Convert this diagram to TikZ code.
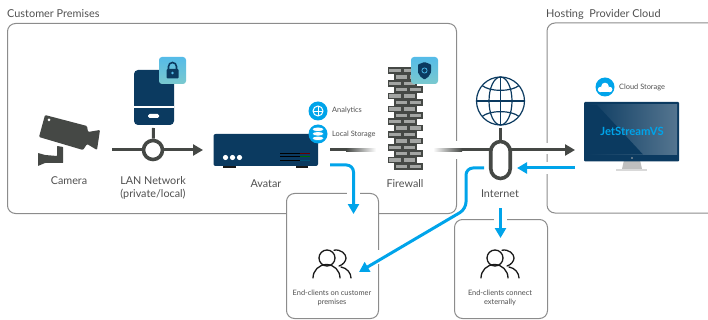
\documentclass[tikz,border=0pt]{standalone}
\usepackage{fontspec}
\setmainfont{Lato}
\usetikzlibrary{arrows.meta,positioning,calc}
\definecolor{navy}{HTML}{0B3A60}
\definecolor{dark}{HTML}{454845}
\definecolor{sky}{HTML}{00A4EA}
\definecolor{edge}{HTML}{8C8C8C}
\definecolor{txt}{HTML}{505050}
\definecolor{brick}{HTML}{A3A5A3}
\definecolor{tileA}{HTML}{55BBE8}
\definecolor{tileB}{HTML}{7AC9CE}
\tikzset{
  x=1pt,y=-1pt,
  lbl/.style={text=txt,font=\fontsize{10.8}{13}\selectfont,align=center,inner sep=0pt},
  big/.style={text=txt,font=\fontsize{10.9}{13}\selectfont,inner sep=0pt,anchor=west},
  small/.style={text=txt,font=\fontsize{7.4}{9}\selectfont,align=center,inner sep=0pt},
  region/.style={draw=edge,line width=1pt,rounded corners=8pt,fill=white},
  darkline/.style={draw=dark,line width=3pt},
  bluearrow/.style={draw=sky,line width=3pt,rounded corners=7pt,-{Triangle[length=10pt,width=11pt]}},
  hub/.style={draw=dark,line width=3.6pt,fill=white},
  tile/.style={minimum size=27pt,inner sep=0pt,rounded corners=3pt,top color=tileA,bottom color=tileB},
  iconball/.style={circle,fill=sky,minimum size=19pt,inner sep=0pt},
  person/.style={draw=black!90,line width=1.3pt,line cap=round},
}
\newcommand{\peopleicon}[2]{%
  \begin{scope}[shift={(#1,#2)}]
    \draw[person] (0,0) circle (8);
    \draw[person] (-14,20) arc[start angle=180,end angle=360,x radius=13.5,y radius=13.5];
    \draw[person] (7,-7.8) .. controls (14,-9) and (19,-4) .. (19,0) .. controls (19,3) and (16,7) .. (12,8);
    \draw[person] (14,9) .. controls (20,10) and (24,15) .. (24,20);
  \end{scope}}
\begin{document}
\begin{tikzpicture}
\useasboundingbox (0,0) rectangle (708,320);

% regions
\node[region,minimum width=449pt,minimum height=190pt,anchor=north west,inner sep=0pt] (premises) at (7,23) {};
\coordinate (hostTR) at (708,23);
\coordinate (hostTL) at (547,23);
\coordinate (hostBL) at (547,213);
\coordinate (hostBR) at (708,213);
\draw[draw=edge,line width=1pt,rounded corners=8pt] (hostTR) -- (hostTL) -- (hostBL) -- (hostBR);
\node[big] (premisesTitle) at (7,14) {Customer Premises};
\node[big] (hostTitle) at (546,14) {Hosting\ \ Provider Cloud};

% client boxes
\node[region,minimum width=92pt,minimum height=125pt,anchor=north west,inner sep=0pt] (clientsA) at (286,193) {};
\node[region,minimum width=93pt,minimum height=99pt,anchor=north west,inner sep=0pt] (clientsB) at (454,219) {};

% camera
\fill[dark,rounded corners=1pt] (45,115) -- (87,126) -- (88,132) -- (100,130) -- (97,150) -- (87,144) -- (83,150) -- (39,137) -- cycle;
\fill[white] (49,120) circle (1.5);
\fill[dark,rounded corners=0.5pt] (57,146) -- (63,147) -- (63,163) -- (45,163) -- (38,166) -- (38,153) -- (45,155) -- (57,156) -- cycle;
\node[lbl] (camera) at (69,181) {Camera};

% LAN
\coordinate (lanIn) at (112,150);
\coordinate (lanOut) at (203,150);
\node[hub,circle,minimum size=19pt,inner sep=0pt] (lan) at (153,150) {};
\draw[darkline] (lanIn) -- (lan);
\draw[darkline,-{Triangle[length=10pt,width=11pt]}] (lan) -- (lanOut);
\fill[navy,rounded corners=4pt] (134,70) rectangle (174,125);
\coordinate (lanDevice) at (153.5,128);
\fill[white] (134,106.5) rectangle (174,108);
\fill[white,rounded corners=1.5pt] (148,114) rectangle (159,118);
\draw[darkline] (lanDevice) -- (lan);
\node[tile] (lockTile) at (172.5,70.5) {};
\draw[navy,line width=1.6pt] (168.5,69) -- (168.5,66.5) arc[start angle=180,end angle=360,radius=4] -- (176.5,69);
\fill[navy,rounded corners=1pt] (166.5,69) rectangle (178.5,78.5);
\fill[tileA] (172.5,73) circle (1.4);
\node[lbl] (lanLabel) at (153,187.5) {LAN Network\\(private/local)};

% avatar
\fill[black!90] (223,165) rectangle (236,168.5);
\fill[black!90] (296,165) rectangle (308,168.5);
\fill[navy,rounded corners=2pt] (213.5,134) rectangle (318,166);
\foreach \dx in {225.5,232.5,239.5} \fill[white] (\dx,157.5) circle (2.6);
\foreach \dy/\c in {153.5/red!40!black,157/green!40!black,160.5/sky!50!black}{
  \draw[black,line width=1pt] (280,\dy) -- (300,\dy);
  \draw[\c,line width=1pt] (300,\dy) -- (310,\dy);}
\node[lbl] (avatar) at (266,184) {Avatar};
\node[iconball] (analytics) at (318,111) {};
\draw[white,line width=1pt] (318,111) circle (5);
\draw[white,line width=0.8pt] (318,106) -- (318,116) (313,111) -- (323,111);
\node[iconball] (storage) at (318,134) {};
\foreach \dy in {138.5,134,129.5} {
  \fill[white] (318,\dy) ellipse (5.5 and 2);
  \draw[sky,line width=0.5pt] (312.5,\dy) arc[start angle=180,end angle=0,x radius=5.5,y radius=2];}
\node[small,anchor=west] (analyticsL) at (332,110.5) {Analytics};
\node[small,anchor=west] (storageL) at (332,134) {Local Storage};

% firewall
\foreach \r in {0,...,15}{
  \pgfmathsetmacro{\yy}{68+6.4*\r}
  \pgfmathsetmacro{\xx}{isodd(\r) ? 395 : 388.5}
  \foreach \k in {0,1}{
    \draw[draw=dark,fill=brick,line width=1.7pt] ({\xx+\k*14.2},\yy) rectangle ++(13,5);
  }
}
\node[lbl] (firewall) at (405,184) {Firewall};
\node[tile] (shieldTile) at (424.5,70.5) {};
\fill[navy,rounded corners=0.8pt] (424.5,62) -- (431,64.5) -- (431,72) .. controls (430,76) and (427,78) .. (424.5,79.5) .. controls (422,78) and (419,76) .. (418,72) -- (418,64.5) -- cycle;
\draw[sky!70!white,line width=0.7pt] (424.5,70.5) circle (2.6);

% internet
\coordinate (midStart) at (330,150);
\coordinate (midSolid) at (346,150);
\coordinate (midEnd) at (376,150);
\coordinate (wanStart) at (433,150);
\coordinate (wanFade) at (462,150);
\coordinate (wanEnd) at (575,150);
\fill[white] (450,141) rectangle (462,159);
\fill[white] (541,143) rectangle (553,154);
\fill[white] (541,162) rectangle (553,174);
\draw[darkline] (midStart) -- (midSolid);
\shade[left color=dark,right color=white] ($(midSolid)+(0,-1.5)$) rectangle ($(midEnd)+(0,1.5)$);
\shade[left color=white,right color=dark] ($(wanStart)+(0,-1.5)$) rectangle ($(wanFade)+(0,1.5)$);
\draw[darkline,-{Triangle[length=10pt,width=11pt]}] (wanFade) -- (wanEnd);
\node[hub,rounded corners=10pt,minimum width=19.5pt,minimum height=37pt,inner sep=0pt] (internet) at (500.5,160) {};
\coordinate (globe) at (500.5,101);
\coordinate (globeStem) at (500.5,128);
\draw[darkline] (globeStem) -- (internet.north);
\begin{scope}[navy,line width=1.2pt]
  \draw (globe) circle (24);
  \draw (globe) ellipse (11.5 and 24);
  \draw (476.5,101) -- (524.5,101);
  \draw (500.5,77) -- (500.5,125);
  \draw (482,85.5) .. controls (490,92) and (511,92) .. (519,85.5);
  \draw (482,116.5) .. controls (490,110) and (511,110) .. (519,116.5);
\end{scope}
\node[lbl] (internetL) at (500,194) {Internet};

% monitor
\fill[gray!50] (624,160) -- (640,160) -- (642,169) -- (622,169) -- cycle;
\fill[gray!30] (616,169) rectangle (647,171);
\fill[navy,rounded corners=1pt] (584,102) rectangle (679,161.5);
\shade[left color=navy,right color=navy!70!white] (586,105) rectangle (677,154.5);
\fill[navy] (586,105) -- (597,105) -- (643,154.5) -- (586,154.5) -- cycle;
\fill[gray!60] (632,158) circle (0.8);
\node[inner sep=0pt,text=sky,font=\fontsize{11.3}{13}\selectfont\bfseries] (jet) at (632,131) {JetStreamVS};
\node[iconball] (cloud) at (605,87) {};
\fill[white] (600,89) rectangle (610,92);
\fill[white] (600.5,89.5) circle (2.7);
\fill[white] (605,86.5) circle (3.8);
\fill[white] (609.7,89.5) circle (2.7);
\node[small,anchor=west] (cloudL) at (619,87) {Cloud Storage};

% blue connectors
\coordinate (fromMonitor) at (575,168);
\coordinate (toInternet) at (517,168);
\coordinate (fromInternet) at (484,168);
\coordinate (bendA) at (466,168);
\coordinate (bendB) at (466,209);
\coordinate (fromAvatar) at (330,165);
\coordinate (bendC) at (353.5,165);
\coordinate (toClientsA) at (353.5,214);
\coordinate (toClientsB) at (359,272);
\coordinate (fromNet) at (500.5,208);
\coordinate (toClientsC) at (500.5,238);
\fill[white] (347,190) rectangle (360,196);
\fill[white] (494,216) rectangle (507,222);
\fill[white] (374,250) rectangle (382,264);
\draw[bluearrow] (fromMonitor) -- (toInternet);
\draw[bluearrow] (fromAvatar) -- (bendC) -- (toClientsA);
\draw[bluearrow] (fromInternet) -- (bendA) -- (bendB) -- (toClientsB);
\draw[bluearrow] (fromNet) -- (toClientsC);

% people
\peopleicon{327}{258}
\peopleicon{495}{258}
\node[small] (clientsAL) at (332,297.5) {End-clients on customer\\premises};
\node[small] (clientsBL) at (500,297.5) {End-clients connect\\externally};
\end{tikzpicture}
\end{document}
